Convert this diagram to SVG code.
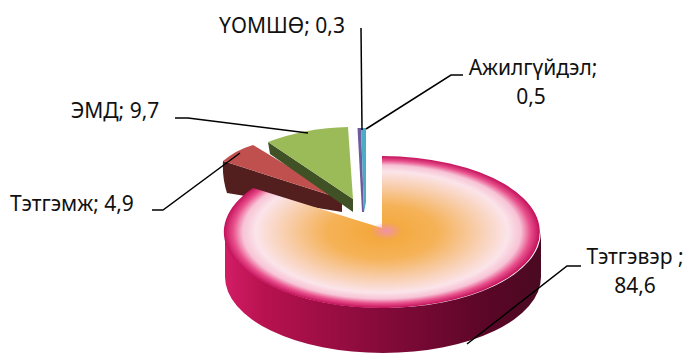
<svg xmlns="http://www.w3.org/2000/svg" width="691" height="356" viewBox="0 0 691 356">
<defs>
<radialGradient id="topGrad" cx="0.5" cy="0.5" r="0.5">
<stop offset="0" stop-color="#f4a636"/>
<stop offset="0.35" stop-color="#f5b257"/>
<stop offset="0.6" stop-color="#f8cdaa"/>
<stop offset="0.8" stop-color="#fbe4ea"/>
<stop offset="0.88" stop-color="#f7c3d5"/>
<stop offset="0.94" stop-color="#e8508c"/>
<stop offset="1" stop-color="#c2105a"/>
</radialGradient>
<linearGradient id="sideGrad" x1="0" y1="0" x2="1" y2="0">
<stop offset="0" stop-color="#d21d66"/>
<stop offset="0.12" stop-color="#b8124f"/>
<stop offset="0.5" stop-color="#840a3a"/>
<stop offset="0.85" stop-color="#580625"/>
<stop offset="1" stop-color="#4a0a22"/>
</linearGradient>
<radialGradient id="apexGrad" cx="0.5" cy="0.5" r="0.5">
<stop offset="0" stop-color="#f38fb8" stop-opacity="0.9"/>
<stop offset="1" stop-color="#f38fb8" stop-opacity="0"/>
</radialGradient>
<style>
.lbl{font-family:"Noto Sans","DejaVu Sans",sans-serif;font-size:21px;fill:#111}
.ld{fill:none;stroke:#000;stroke-width:1.5}
</style>
</defs>
<rect width="691" height="356" fill="#fff"/>

<g id="slice-temj">
<path d="M223,161 L342,199 L342,212 L227,193 Q222,178 223,161 Z" fill="#521e1e"/>
<path d="M223,161 Q236,150 253,145 L342,199 Z" fill="#c0504d"/>
</g>

<g id="slice-emd">
<path d="M268,142 L353,199 L353,212 L270,154 Z" fill="#3f5125"/>
<path d="M268,142 Q305,128 348,127 L353,199 Z" fill="#9bbb59"/>
</g>

<g id="slice-oomsho">
<path d="M357.5,128 L361,128 L364,212 L362,212 Z" fill="#6f5a9e"/>
</g>

<g id="slice-ajilguidel">
<path d="M361,128 L366,128 L366,202 L364,212 Z" fill="#4bacc6"/>
</g>

<g id="slice-tetgever">
<path d="M225,232 A158,76 0 0 0 541,232 L541,277 A158,76 0 0 1 225,277 Z" fill="url(#sideGrad)"/>
<path d="M382,228 L382,156 A158,76 0 1 1 253,188 Z" fill="url(#topGrad)"/>
<ellipse cx="386" cy="231" rx="16" ry="9" fill="url(#apexGrad)"/>
</g>

<g id="connectors">
<path class="ld" d="M361,28 L362,130"/>
<path class="ld" d="M366,129 L451,75 L463,75"/>
<path class="ld" d="M175,118 L188,118 L308,133"/>
<path class="ld" d="M152,210 L163,210 L240,153"/>
<path class="ld" d="M467,344 L567,266 L581,266"/>
</g>

<g id="labels">
<text class="lbl" x="282" y="33" text-anchor="middle">ҮОМШӨ; 0,3</text>
<text class="lbl" x="533" y="75" text-anchor="middle">Ажилгүйдэл;</text>
<text class="lbl" x="531" y="103.5" text-anchor="middle">0,5</text>
<text class="lbl" x="115" y="118" text-anchor="middle">ЭМД; 9,7</text>
<text class="lbl" x="72" y="211" text-anchor="middle">Тэтгэмж; 4,9</text>
<text class="lbl" x="635" y="264" text-anchor="middle">Тэтгэвэр ;</text>
<text class="lbl" x="635" y="293" text-anchor="middle">84,6</text>
</g>
</svg>
